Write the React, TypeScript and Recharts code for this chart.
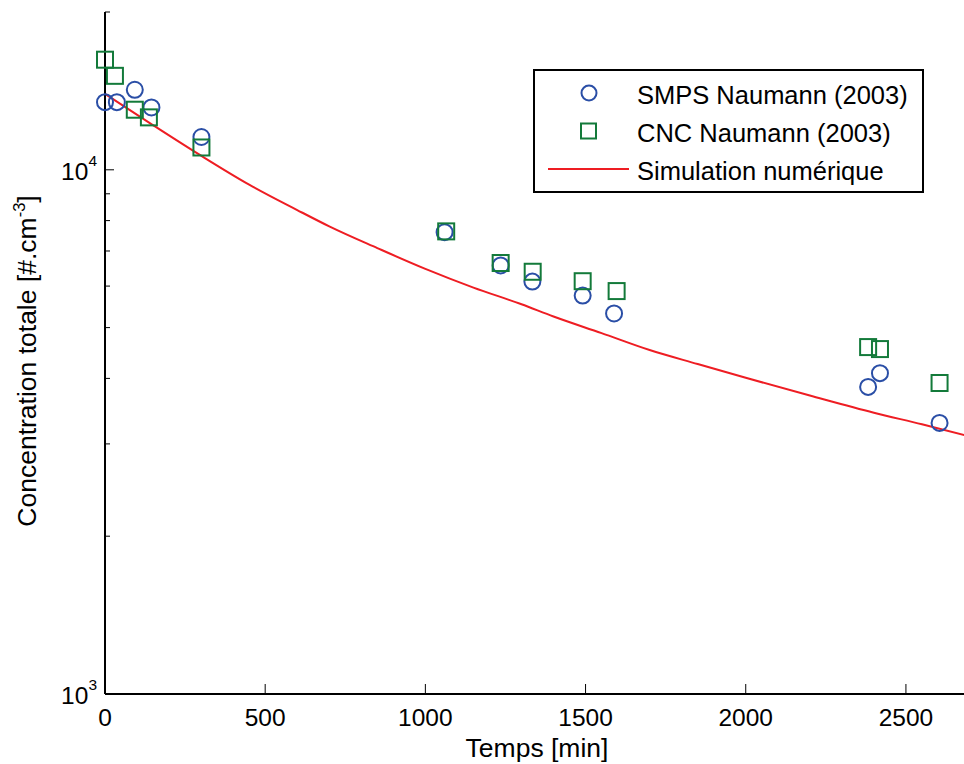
import React from 'react';
import { ComposedChart, Scatter, Line, XAxis, YAxis, Legend } from 'recharts';

// measured points (Naumann 2003), time in min, total concentration in #/cm3
const SMPS_TIME = [0, 37, 93, 145, 301, 1060, 1235, 1334, 1491, 1589, 2382, 2419, 2605];
const SMPS_N = [13460, 13460, 14210, 13150, 11550, 7605, 6570, 6120, 5755, 5320, 3853, 4093, 3290];

const CNC_TIME = [0, 31, 93, 137, 301, 1065, 1235, 1335, 1491, 1597, 2382, 2419, 2605];
const CNC_N = [16220, 15110, 13020, 12590, 11030, 7630, 6640, 6390, 6130, 5870, 4590, 4550, 3920];

// simulation curve
const SIM_TIME = [0, 140, 300, 450, 600, 700, 850, 1000, 1150, 1300, 1400, 1550, 1700, 1850, 2000, 2200, 2400, 2550, 2700];
const SIM_N = [13960, 12280, 10640, 9370, 8380, 7800, 7090, 6470, 5960, 5540, 5250, 4880, 4530, 4260, 4010, 3710, 3440, 3270, 3100];

const X_TICKS = [0, 500, 1000, 1500, 2000, 2500];
const Y_TICKS = [1000, 2000, 3000, 4000, 5000, 6000, 7000, 8000, 9000, 10000, 20000];
const Y_LABELLED = [1000, 10000];

const SERIES_NAMES = ['SMPS Naumann (2003)', 'CNC Naumann (2003)', 'Simulation numérique'];

const W = 975;
const H = 764;
const LEFT = 105;
const TOP = 12;
const BOTTOM = 694;
const FONT = '"Liberation Sans", Arial, sans-serif';
const FS = 24.5;
const FS_LABEL = 26.5;
const FS_LEGEND = 25.5;
const BLUE = '#2a4ea6';
const GREEN = '#137a3a';
const RED = '#ee1d23';

const smpsData = SMPS_TIME.map((t, i) => ({ t, n: SMPS_N[i] }));
const cncData = CNC_TIME.map((t, i) => ({ t, n: CNC_N[i] }));
const simData = SIM_TIME.map((t, i) => ({ t, n: SIM_N[i] }));

const circleShape = (p: any) => (
  <circle cx={p.cx} cy={p.cy} r={8} fill="none" stroke={BLUE} strokeWidth={2} />
);
const squareShape = (p: any) => (
  <rect x={p.cx - 8} y={p.cy - 8} width={16} height={16} fill="none" stroke={GREEN} strokeWidth={2} />
);

const XTickBottom = (props: any) => {
  const { x, payload } = props;
  return (
    <g>
      <line x1={x} x2={x} y1={BOTTOM} y2={BOTTOM - 10} stroke="#000" strokeWidth={1} />
      <text x={x} y={726} textAnchor="middle" fontSize={FS} fontFamily={FONT} fill="#000">
        {payload.value}
      </text>
    </g>
  );
};

const XTickTop = (props: any) => {
  const { x } = props;
  return <line x1={x} x2={x} y1={TOP} y2={TOP + 9} stroke="#000" strokeWidth={1} />;
};

const YTick = (props: any) => {
  const { y, payload } = props;
  const v = payload.value;
  const major = Y_LABELLED.includes(v);
  return (
    <g>
      <line x1={LEFT} x2={LEFT + (major ? 9 : 5)} y1={y} y2={y} stroke="#000" strokeWidth={1} />
      {major && (
        <text x={97} y={y + 10} textAnchor="end" fontSize={FS} fontFamily={FONT} fill="#000">
          10
          <tspan dy={-14} fontSize={15.5}>{Math.round(Math.log10(v))}</tspan>
        </text>
      )}
    </g>
  );
};

const renderLegend = () => (
  <svg width={392} height={125} style={{ display: 'block' }}>
    <rect x={1} y={1} width={389} height={122} fill="#fff" stroke="#000" strokeWidth={2} />
    {SERIES_NAMES.map((name, i) => {
      const cy = 24 + i * 38;
      let icon;
      if (i === 0) icon = <circle cx={56} cy={cy} r={7.5} fill="none" stroke={BLUE} strokeWidth={2} />;
      else if (i === 1) icon = <rect x={48} y={cy - 7.5} width={15} height={15} fill="none" stroke={GREEN} strokeWidth={2} />;
      else icon = <line x1={15} x2={96} y1={cy} y2={cy} stroke={RED} strokeWidth={2} />;
      return (
        <g key={name}>
          {icon}
          <text x={104} y={cy + 11} fontSize={FS_LEGEND} fontFamily={FONT} fill="#000">
            {name}
          </text>
        </g>
      );
    })}
  </svg>
);

export default function App() {
  return (
    <div style={{ position: 'absolute', left: 0, top: 0, width: 964, height: 764, overflow: 'hidden', background: '#fff' }}>
      <ComposedChart width={W} height={H} margin={{ top: TOP, right: 5, bottom: 30, left: 45 }}>
        <XAxis
          type="number"
          dataKey="t"
          domain={[0, 2700]}
          ticks={X_TICKS}
          height={40}
          axisLine={{ stroke: '#000', strokeWidth: 2 }}
          tickLine={false}
          tick={XTickBottom}
          interval={0}
        />
        <XAxis
          xAxisId="top"
          orientation="top"
          type="number"
          dataKey="t"
          domain={[0, 2700]}
          ticks={X_TICKS}
          height={0}
          axisLine={{ stroke: '#000', strokeWidth: 2 }}
          tickLine={false}
          tick={XTickTop}
          interval={0}
        />
        <YAxis
          type="number"
          dataKey="n"
          scale="log"
          domain={[1000, 20000]}
          ticks={Y_TICKS}
          width={60}
          axisLine={{ stroke: '#000', strokeWidth: 2 }}
          tickLine={false}
          tick={YTick}
          interval={0}
        />
        <Legend
          content={renderLegend}
          layout="vertical"
          align="center"
          verticalAlign="middle"
          wrapperStyle={{ left: 533, top: 69, width: 392, height: 125 }}
        />
        <Scatter name={SERIES_NAMES[0]} data={smpsData} dataKey="n" legendType="circle" fill={BLUE} shape={circleShape} isAnimationActive={false} />
        <Scatter name={SERIES_NAMES[1]} data={cncData} dataKey="n" legendType="square" fill={GREEN} shape={squareShape} isAnimationActive={false} />
        <Line
          name={SERIES_NAMES[2]}
          data={simData}
          dataKey="n"
          type="monotone"
          stroke={RED}
          strokeWidth={2}
          dot={false}
          activeDot={false}
          isAnimationActive={false}
        />
      </ComposedChart>
      <svg width={964} height={764} style={{ position: 'absolute', left: 0, top: 0, pointerEvents: 'none' }}>
        <text x={537} y={757} textAnchor="middle" fontSize={FS_LABEL} fontFamily={FONT} fill="#000">
          Temps [min]
        </text>
        <text transform="translate(36,361) rotate(-90)" textAnchor="middle" fontSize={FS_LABEL} fontFamily={FONT} fill="#000">
          Concentration totale [#.cm
          <tspan dy={-11} fontSize={16.5}>-3</tspan>
          <tspan dy={11}>]</tspan>
        </text>
      </svg>
    </div>
  );
}
